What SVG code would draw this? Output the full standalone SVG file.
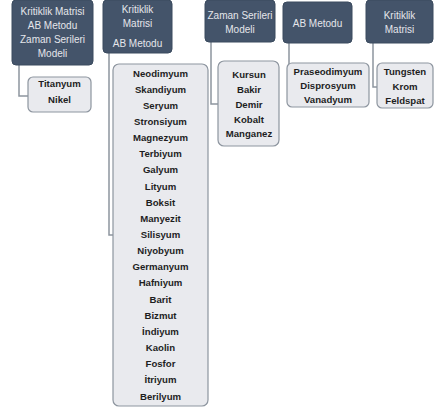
<svg xmlns="http://www.w3.org/2000/svg" width="434" height="409" viewBox="0 0 434 409">
<style>
.hd{fill:#44546a;stroke:#3a4a5e;stroke-width:1}
.ch{fill:#e9eaee;stroke:#8d959f;stroke-width:1.2}
.ht{font-family:"Liberation Sans",Arial,sans-serif;font-size:10px;fill:#e4e6ea;text-anchor:middle}
.ct{font-family:"Liberation Sans",Arial,sans-serif;font-size:9.6px;font-weight:bold;fill:#1e1e1e;text-anchor:middle}
.cn{fill:none;stroke:#8d959f;stroke-width:1.5}
</style>
<rect width="434" height="409" fill="#ffffff"/>
<g id="connectors">
<path class="cn" d="M19,65 V96 H28"/>
<path class="cn" d="M109,53 V235 H113"/>
<path class="cn" d="M211,42 V104 H218"/>
<path class="cn" d="M289,43 V85 H288"/>
<path class="cn" d="M373,43 V87 H377"/>
</g>
<g id="h1">
<rect class="hd" x="12" y="0" width="81" height="65" rx="4"/>
<text class="ht" x="52.5" y="14.5">Kritiklik Matrisi</text>
<text class="ht" x="52.5" y="28.5">AB Metodu</text>
<text class="ht" x="52.5" y="42.5">Zaman Serileri</text>
<text class="ht" x="52.5" y="56.5">Modeli</text>
</g>
<g id="c1">
<rect class="ch" x="28" y="77" width="63" height="35" rx="5"/>
<text class="ct" x="59.5" y="86.5">Titanyum</text>
<text class="ct" x="59.5" y="102.5">Nikel</text>
</g>
<g id="h2">
<rect class="hd" x="103" y="0" width="69" height="53" rx="4"/>
<text class="ht" x="137.5" y="12.5">Kritiklik</text>
<text class="ht" x="137.5" y="26.5">Matrisi</text>
<text class="ht" x="137.5" y="46.5">AB Metodu</text>
</g>
<g id="c2">
<rect class="ch" x="113" y="64" width="95" height="342" rx="6"/>
<g class="ct">
<text class="ct" x="160.5" y="76.5">Neodimyum</text>
<text class="ct" x="160.5" y="92.6">Skandiyum</text>
<text class="ct" x="160.5" y="108.8">Seryum</text>
<text class="ct" x="160.5" y="124.9">Stronsiyum</text>
<text class="ct" x="160.5" y="141.1">Magnezyum</text>
<text class="ct" x="160.5" y="157.2">Terbiyum</text>
<text class="ct" x="160.5" y="173.4">Galyum</text>
<text class="ct" x="160.5" y="189.5">Lityum</text>
<text class="ct" x="160.5" y="205.7">Boksit</text>
<text class="ct" x="160.5" y="221.8">Manyezit</text>
<text class="ct" x="160.5" y="238">Silisyum</text>
<text class="ct" x="160.5" y="254.1">Niyobyum</text>
<text class="ct" x="160.5" y="270.3">Germanyum</text>
<text class="ct" x="160.5" y="286.4">Hafniyum</text>
<text class="ct" x="160.5" y="302.6">Barit</text>
<text class="ct" x="160.5" y="318.7">Bizmut</text>
<text class="ct" x="160.5" y="334.9">İndiyum</text>
<text class="ct" x="160.5" y="351">Kaolin</text>
<text class="ct" x="160.5" y="367.2">Fosfor</text>
<text class="ct" x="160.5" y="383.3">İtriyum</text>
<text class="ct" x="160.5" y="399.5">Berilyum</text>
</g>
</g>
<g id="h3">
<rect class="hd" x="205" y="0" width="70" height="42" rx="4"/>
<text class="ht" x="240" y="18.5">Zaman Serileri</text>
<text class="ht" x="240" y="32.5">Modeli</text>
</g>
<g id="c3">
<rect class="ch" x="218" y="61" width="61" height="85" rx="6"/>
<text class="ct" x="249" y="77.5">Kursun</text>
<text class="ct" x="249" y="92.5">Bakir</text>
<text class="ct" x="249" y="107.5">Demir</text>
<text class="ct" x="249" y="122.5">Kobalt</text>
<text class="ct" x="249" y="137">Manganez</text>
</g>
<g id="h4">
<rect class="hd" x="283" y="2" width="69" height="41" rx="4"/>
<text class="ht" x="317.5" y="26.5">AB Metodu</text>
</g>
<g id="c4">
<rect class="ch" x="287" y="63" width="82" height="44" rx="5"/>
<text class="ct" x="328" y="74.5">Praseodimyum</text>
<text class="ct" x="328" y="88.5">Disprosyum</text>
<text class="ct" x="328" y="102.5">Vanadyum</text>
</g>
<g id="h5">
<rect class="hd" x="366" y="0" width="67" height="43" rx="4"/>
<text class="ht" x="399.5" y="18.5">Kritiklik</text>
<text class="ht" x="399.5" y="32.5">Matrisi</text>
</g>
<g id="c5">
<rect class="ch" x="377" y="63" width="56" height="45" rx="5"/>
<text class="ct" x="405" y="74.5">Tungsten</text>
<text class="ct" x="405" y="89.5">Krom</text>
<text class="ct" x="405" y="104">Feldspat</text>
</g>
</svg>
